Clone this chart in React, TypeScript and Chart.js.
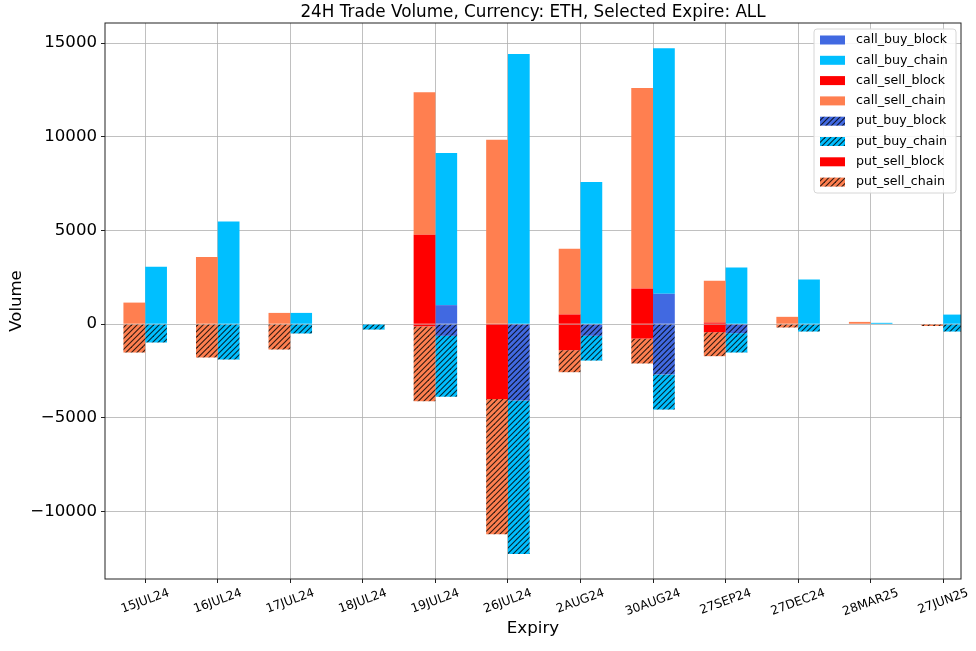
import { useEffect, useRef } from 'react';
import { Chart, registerables } from 'chart.js';

Chart.register(...registerables);

const categories = ['15JUL24', '16JUL24', '17JUL24', '18JUL24', '19JUL24', '26JUL24', '2AUG24', '30AUG24', '27SEP24', '27DEC24', '28MAR25', '27JUN25'];

const callBuyBlock = [0, 0, 0, 0, 1015, 0, 0, 1620, 0, 0, 0, 0];
const callBuyChain = [3060, 5480, 600, 0, 8115, 14420, 7580, 13100, 3020, 2380, 70, 510];
const callSellBlock = [0, 0, 0, 0, 4770, 0, 515, 1900, 80, 0, 0, 0];
const callSellChain = [1150, 3580, 600, 20, 7600, 9840, 3505, 10700, 2230, 390, 120, 0];
const putBuyBlock = [0, 0, 0, 0, -625, -4080, -625, -2690, -480, 0, 0, 0];
const putBuyChain = [-980, -1890, -500, -290, -3255, -8190, -1320, -1870, -1035, -395, 0, -395];
const putSellBlock = [0, 0, 0, 0, -120, -3990, -1390, -770, -430, 0, 0, 0];
const putSellChain = [-1515, -1780, -1355, 0, -3990, -7220, -1175, -1330, -1280, -180, 0, -100];

const yTicks = [-10000, -5000, 0, 5000, 10000, 15000];

const TITLE = '24H Trade Volume, Currency: ETH, Selected Expire: ALL';
const FONT = "'DejaVu Sans', sans-serif";

function hatch(color: string): CanvasPattern | string {
  const s = 11;
  const c = document.createElement('canvas');
  c.width = s;
  c.height = s;
  const g = c.getContext('2d');
  if (!g) return color;
  g.fillStyle = color;
  g.fillRect(0, 0, s, s);
  g.strokeStyle = 'rgba(0,0,0,0.8)';
  g.lineWidth = 1.1;
  for (const k of [0, 5.5, 11, 16.5, 22]) {
    g.beginPath();
    g.moveTo(-2, k + 2);
    g.lineTo(k + 2, -2);
    g.stroke();
  }
  return g.createPattern(c, 'repeat') || color;
}

function fmt(v: number): string {
  return v < 0 ? '\u2212' + Math.abs(v) : String(v);
}

const decor = {
  id: 'decor',
  afterDatasetsDraw(chart: any) {
    const { ctx, chartArea: a } = chart;
    ctx.save();
    ctx.strokeStyle = '#222';
    ctx.lineWidth = 1;
    ctx.strokeRect(a.left, a.top, a.right - a.left, a.bottom - a.top);
    ctx.restore();
  },
  afterDraw(chart: any) {
    const { ctx, chartArea: a, scales } = chart;
    ctx.save();
    // title
    ctx.fillStyle = '#000';
    ctx.font = `16.8px ${FONT}`;
    ctx.textAlign = 'center';
    ctx.textBaseline = 'middle';
    ctx.fillText(TITLE, (a.left + a.right) / 2, 12.5);

    // rotated x labels
    const th = (20 * Math.PI) / 180;
    ctx.font = `12.2px ${FONT}`;
    categories.forEach((lab, i) => {
      const px = scales.x.getPixelForValue(i);
      const w = ctx.measureText(lab).width;
      const h = 14;
      const half = (w * Math.sin(th) + h * Math.cos(th)) / 2;
      const cy = a.bottom + 7 + half;
      ctx.save();
      ctx.translate(px, cy);
      ctx.rotate(-th);
      ctx.textAlign = 'center';
      ctx.textBaseline = 'middle';
      ctx.fillText(lab, 0, 0);
      ctx.restore();
    });

    // legend
    const bx = a.right - 147;
    const by = a.top + 6;
    const bw = 142;
    const bh = 164;
    ctx.beginPath();
    if ((ctx as any).roundRect) (ctx as any).roundRect(bx, by, bw, bh, 3);
    else ctx.rect(bx, by, bw, bh);
    ctx.fillStyle = 'rgba(255,255,255,0.85)';
    ctx.fill();
    ctx.strokeStyle = '#d6d6d6';
    ctx.lineWidth = 1;
    ctx.stroke();
    ctx.font = `12.6px ${FONT}`;
    ctx.textAlign = 'left';
    ctx.textBaseline = 'middle';
    chart.data.datasets.forEach((ds: any, i: number) => {
      const cy = by + 11 + i * 20.3;
      ctx.fillStyle = ds.backgroundColor;
      ctx.fillRect(bx + 6, cy - 4.5, 25, 9);
      ctx.fillStyle = '#000';
      ctx.fillText(ds.label, bx + 42, cy);
    });
    ctx.restore();
  },
};

export default function App() {
  const ref = useRef<HTMLCanvasElement>(null);

  useEffect(() => {
    const canvas = ref.current;
    if (!canvas) return;
    const mk = (label: string, vals: number[], color: any, stack: string) => ({
      label,
      data: vals.map((y, i) => ({ x: i, y })),
      backgroundColor: color,
      stack,
      borderWidth: 0,
      barPercentage: 1,
      categoryPercentage: 0.6,
    });
    const datasets = [
      mk('call_buy_block', callBuyBlock, '#4169E1', 'buy'),
      mk('call_buy_chain', callBuyChain, '#00BFFF', 'buy'),
      mk('call_sell_block', callSellBlock, '#FF0000', 'sell'),
      mk('call_sell_chain', callSellChain, '#FF7F50', 'sell'),
      mk('put_buy_block', putBuyBlock, hatch('#4169E1'), 'buy'),
      mk('put_buy_chain', putBuyChain, hatch('#00BFFF'), 'buy'),
      mk('put_sell_block', putSellBlock, '#FF0000', 'sell'),
      mk('put_sell_chain', putSellChain, hatch('#FF7F50'), 'sell'),
    ];
    const ordered = [datasets[2], datasets[3], datasets[6], datasets[7], datasets[0], datasets[1], datasets[4], datasets[5]];
    ordered.forEach((d: any, i) => { d.order = i; });

    const gridCommon = {
      offset: false,
      color: '#b0b0b0',
      lineWidth: 0.8,
      tickColor: '#222',
      tickLength: 4,
      tickWidth: 1,
      drawTicks: true,
    };

    const chart = new Chart(canvas, {
      type: 'bar',
      data: { datasets: datasets as any },
      options: {
        animation: false,
        responsive: false,
        layout: { padding: { left: 0, right: 15, top: 23, bottom: 0 } },
        plugins: {
          legend: { display: false },
          title: { display: false },
          tooltip: { enabled: false },
        },
        scales: {
          x: {
            type: 'linear',
            min: -0.554,
            max: 11.245,
            offset: false,
            grid: gridCommon as any,
            border: { display: false },
            ticks: { display: false, autoSkip: false },
            afterBuildTicks: (s: any) => {
              s.ticks = categories.map((_, i) => ({ value: i }));
            },
            afterFit: (s: any) => {
              s.height = 72;
            },
            title: {
              display: true,
              text: 'Expiry',
              color: '#000',
              font: { family: FONT, size: 16.7 },
              padding: { top: 0, bottom: 12 },
            },
          } as any,
          y: {
            type: 'linear',
            stacked: true,
            min: -13600,
            max: 16070,
            grid: gridCommon as any,
            border: { display: false },
            ticks: {
              color: '#000',
              font: { family: FONT, size: 16.6 },
              padding: 4,
              callback: (v: any) => fmt(Number(v)),
            },
            afterBuildTicks: (s: any) => {
              s.ticks = yTicks.map((v) => ({ value: v }));
            },
            afterFit: (s: any) => {
              s.width = 105;
            },
            title: {
              display: true,
              text: 'Volume',
              color: '#000',
              font: { family: FONT, size: 16.5 },
              padding: { top: 7, bottom: 0 },
            },
          } as any,
        },
      },
      plugins: [decor],
    });
    return () => chart.destroy();
  }, []);

  return (
    <div style={{ position: 'absolute', left: 0, top: 0, width: 976, height: 651, background: '#fff' }}>
      <canvas ref={ref} width={976} height={651} style={{ width: 976, height: 651, display: 'block' }} />
    </div>
  );
}
